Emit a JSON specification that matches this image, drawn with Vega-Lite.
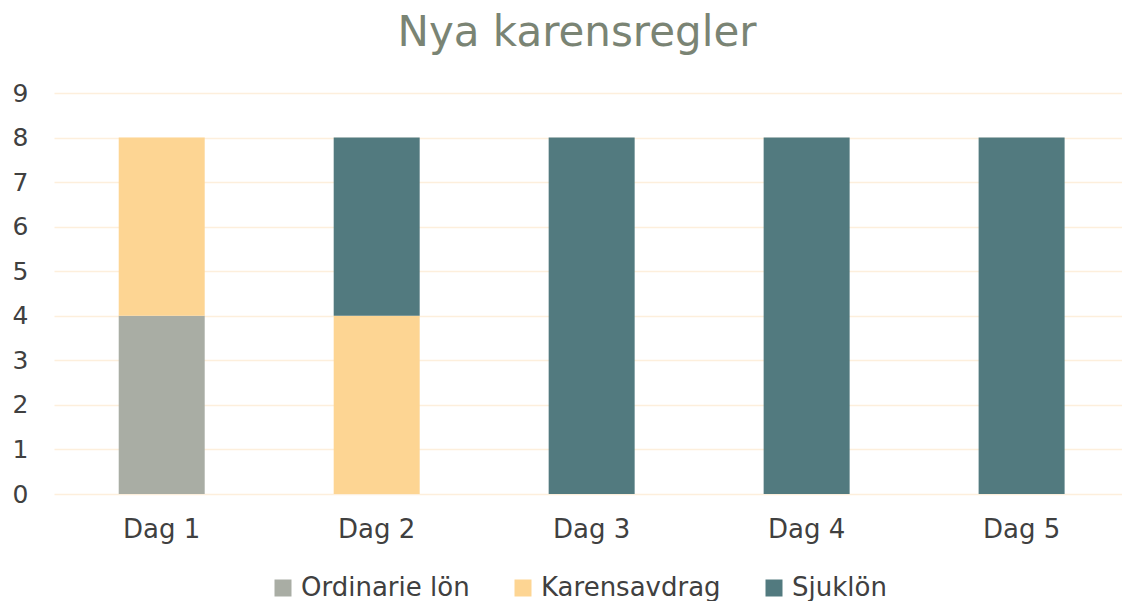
{
  "$schema": "https://vega.github.io/schema/vega-lite/v6.json",
  "autosize": "none",
  "width": 1068,
  "height": 401,
  "padding": {"left": 54, "top": 93, "right": 0, "bottom": 107},
  "background": "white",
  "title": {
    "text": "Nya karensregler",
    "anchor": "middle",
    "frame": "group",
    "dx": -11,
    "offset": 26,
    "font": "DejaVu Sans",
    "fontSize": 42,
    "fontWeight": "normal",
    "color": "#7a8474"
  },
  "data": {
    "values": [
      {"dag": "Dag 1", "typ": "Ordinarie lön", "ord": 1, "timmar": 4},
      {"dag": "Dag 1", "typ": "Karensavdrag", "ord": 2, "timmar": 4},
      {"dag": "Dag 2", "typ": "Karensavdrag", "ord": 2, "timmar": 4},
      {"dag": "Dag 2", "typ": "Sjuklön", "ord": 3, "timmar": 4},
      {"dag": "Dag 3", "typ": "Sjuklön", "ord": 3, "timmar": 8},
      {"dag": "Dag 4", "typ": "Sjuklön", "ord": 3, "timmar": 8},
      {"dag": "Dag 5", "typ": "Sjuklön", "ord": 3, "timmar": 8}
    ]
  },
  "mark": {"type": "bar"},
  "encoding": {
    "x": {
      "field": "dag",
      "type": "nominal",
      "scale": {"paddingInner": 0.6, "paddingOuter": 0.284, "align": 0.53},
      "axis": {
        "title": null,
        "labelAngle": 0,
        "labelFont": "DejaVu Sans",
        "labelFontSize": 26,
        "labelColor": "#404040",
        "labelPadding": 22,
        "ticks": false,
        "domain": false,
        "grid": false
      }
    },
    "y": {
      "field": "timmar",
      "type": "quantitative",
      "stack": "zero",
      "scale": {"domain": [0, 9], "nice": false},
      "axis": {
        "title": null,
        "values": [0, 1, 2, 3, 4, 5, 6, 7, 8, 9],
        "labelFont": "DejaVu Sans",
        "labelFontSize": 25,
        "labelColor": "#404040",
        "labelPadding": 26,
        "ticks": false,
        "domain": false,
        "grid": true,
        "gridColor": "#fdefdc",
        "gridWidth": 1.5
      }
    },
    "color": {
      "field": "typ",
      "type": "nominal",
      "scale": {
        "domain": ["Ordinarie lön", "Karensavdrag", "Sjuklön"],
        "range": ["#a9ada4", "#fdd593", "#527a7f"]
      },
      "legend": {
        "title": null,
        "orient": "none",
        "direction": "horizontal",
        "legendX": 216,
        "legendY": 482,
        "symbolType": "square",
        "symbolSize": 289,
        "symbolStrokeWidth": 0,
        "symbolOpacity": 1,
        "labelFont": "DejaVu Sans",
        "labelFontSize": 26,
        "labelLimit": 0,
        "labelColor": "#404040",
        "labelOffset": 5,
        "columnPadding": 40
      }
    },
    "order": {"field": "ord", "type": "quantitative"}
  },
  "config": {"view": {"stroke": null}}
}
